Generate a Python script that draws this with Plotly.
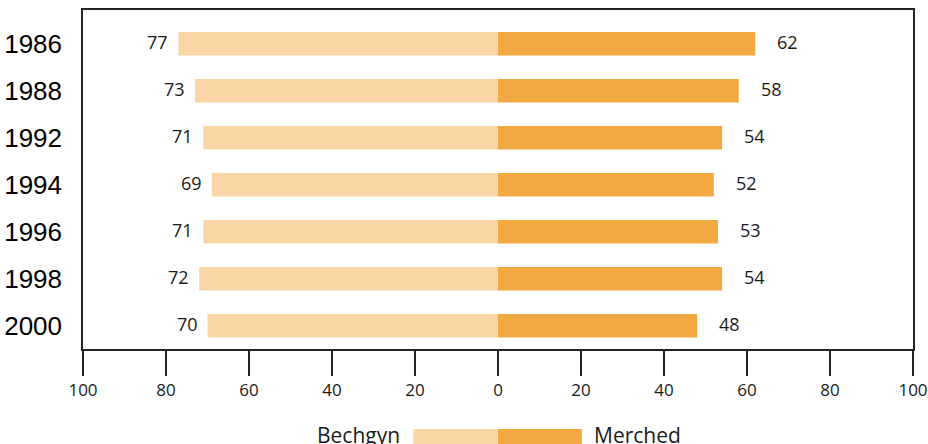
import plotly.graph_objects as go

years = ["1986", "1988", "1992", "1994", "1996", "1998", "2000"]
bechgyn = [77, 73, 71, 69, 71, 72, 70]
merched = [62, 58, 54, 52, 53, 54, 48]
tick_vals = [-100, -80, -60, -40, -20, 0, 20, 40, 60, 80, 100]
tick_text = ["100", "80", "60", "40", "20", "0", "20", "40", "60", "80", "100"]

LIGHT = "#FAD5A5"
DARK = "#F2A942"
TXT = "#1a1a1a"
NUMFONT = "Open Sans"

fig = go.Figure()
fig.add_trace(go.Bar(
    y=years, x=[-v for v in bechgyn], orientation="h",
    marker=dict(color=LIGHT, line=dict(width=0)), width=0.5,
    name="Bechgyn", hoverinfo="skip", showlegend=False,
))
fig.add_trace(go.Bar(
    y=years, x=merched, orientation="h",
    marker=dict(color=DARK, line=dict(width=0)), width=0.5,
    name="Merched", hoverinfo="skip", showlegend=False,
))

annotations = []
for i, (b, m) in enumerate(zip(bechgyn, merched)):
    annotations.append(dict(
        x=-b, y=i, xref="x", yref="y", text=str(b), showarrow=False,
        xanchor="right", yanchor="middle", xshift=-8, yshift=2,
        font=dict(family=NUMFONT, size=18, color=TXT),
    ))
    annotations.append(dict(
        x=m, y=i, xref="x", yref="y", text=str(m), showarrow=False,
        xanchor="left", yanchor="middle", xshift=20, yshift=2,
        font=dict(family=NUMFONT, size=18, color=TXT),
    ))

# legend
annotations.append(dict(
    x=0.384, y=-0.254, xref="paper", yref="paper", text="Bechgyn",
    showarrow=False, xanchor="right", yanchor="middle",
    font=dict(family=NUMFONT, size=21, color=TXT),
))
annotations.append(dict(
    x=0.613, y=-0.254, xref="paper", yref="paper", text="Merched",
    showarrow=False, xanchor="left", yanchor="middle",
    font=dict(family=NUMFONT, size=21, color=TXT),
))

shapes = [
    dict(type="rect", xref="paper", yref="paper", x0=0.398, x1=0.5,
         y0=-0.31, y1=-0.236, fillcolor=LIGHT, line=dict(width=0)),
    dict(type="rect", xref="paper", yref="paper", x0=0.5, x1=0.601,
         y0=-0.31, y1=-0.236, fillcolor=DARK, line=dict(width=0)),
]

fig.update_layout(
    template="none",
    width=928, height=444,
    margin=dict(l=83, r=15, t=10, b=95, autoexpand=False),
    paper_bgcolor="white", plot_bgcolor="white",
    barmode="overlay",
    annotations=annotations, shapes=shapes,
    xaxis=dict(
        range=[-100, 100], tickvals=tick_vals, ticktext=tick_text,
        showgrid=False, zeroline=False, automargin=False,
        showline=True, linecolor="#222", linewidth=1.5, mirror=True,
        ticks="outside", ticklen=25, tickwidth=1.5, tickcolor="#222",
        tickfont=dict(family=NUMFONT, size=17, color=TXT),
        fixedrange=True,
    ),
    yaxis=dict(
        type="category", categoryorder="array", categoryarray=years,
        range=[6.494, -0.719], automargin=False,
        showgrid=False, zeroline=False,
        showline=True, linecolor="#222", linewidth=1.5, mirror=True,
        ticks="", ticklabelstandoff=14,
        tickfont=dict(family="Liberation Sans", size=26, color="black"),
        fixedrange=True,
    ),
)

fig.write_html(
    "out.html",
    config={"displayModeBar": False},
    post_script="document.body.style.margin='0';document.body.style.overflow='hidden';",
)
